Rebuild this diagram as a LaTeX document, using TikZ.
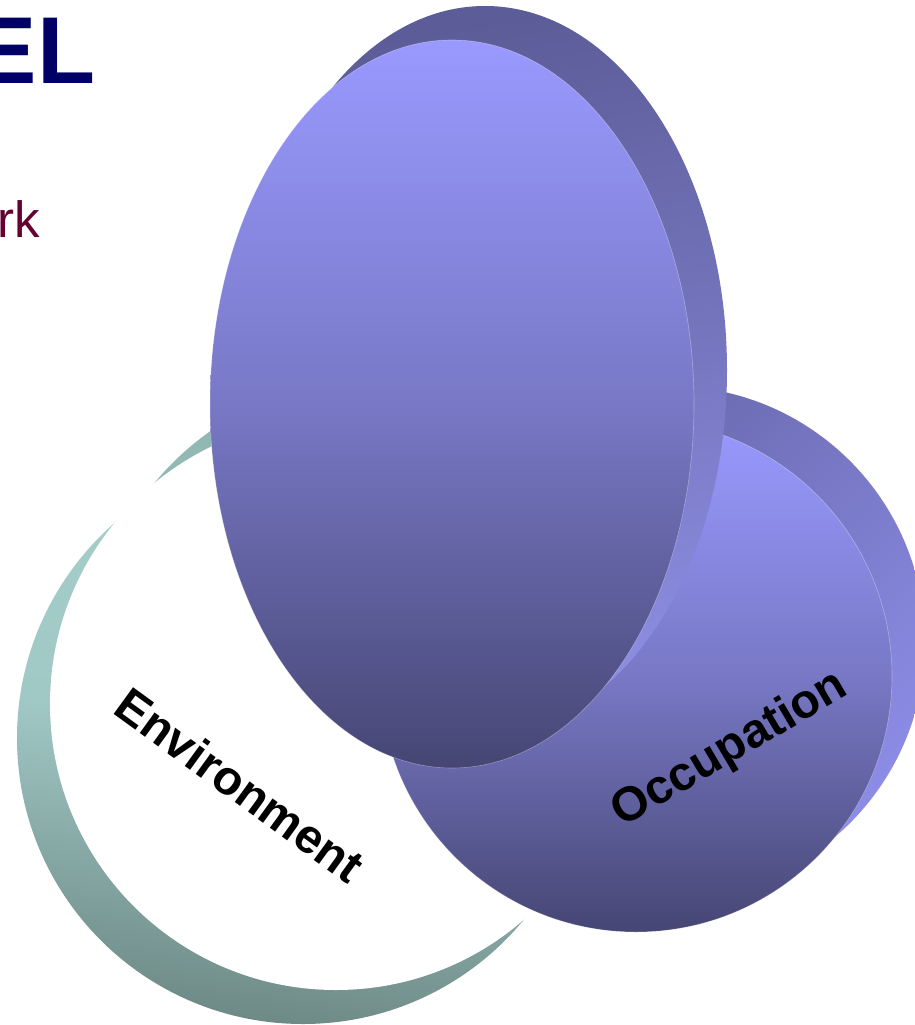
\documentclass[tikz,border=0pt]{standalone}
\usepackage{fontspec}
\setmainfont{Liberation Sans}
\definecolor{titlenavy}{HTML}{000066}
\definecolor{submaroon}{HTML}{660033}
\definecolor{faceTop}{HTML}{9999FF}
\definecolor{faceMid}{HTML}{7878C6}
\definecolor{faceBot}{HTML}{464674}
\definecolor{occRimDark}{HTML}{6464A6}
\definecolor{occRimLight}{HTML}{8C8CE6}
\definecolor{ellRimDark}{HTML}{5C5C98}
\definecolor{ellRimLight}{HTML}{8E8EE4}
\definecolor{envRimLight}{HTML}{A6CECB}
\definecolor{envRimMid}{HTML}{A0C8C5}
\definecolor{envRimDark}{HTML}{6E8A86}
\definecolor{envRimTop}{HTML}{7FA39E}
\begin{document}
\begin{tikzpicture}[x=1pt,y=-1pt,
  facefill/.style={top color=faceTop, bottom color=faceBot, middle color=faceMid},
  facerim/.style={draw=white, draw opacity=0.35, line width=0.6pt},
  envrim/.style={top color=envRimLight, bottom color=envRimDark, middle color=envRimMid, shading angle=-8},
  envrimtop/.style={left color=envRimLight!60!envRimTop, right color=envRimTop},
  occrim/.style={top color=occRimDark, bottom color=occRimLight, shading angle=45},
  ellrim/.style={top color=ellRimDark, bottom color=ellRimLight, shading angle=10},
  label/.style={font=\fontsize{48}{56}\selectfont\bfseries, text=black, inner sep=0pt}]
\useasboundingbox (0,0) rectangle (914,1025);

% title remnants
\node[anchor=base east, inner sep=0pt, text=titlenavy, font=\fontsize{95}{110}\selectfont\bfseries] (title) at (95.5,83) {EL};
\node[anchor=base east, inner sep=0pt, text=submaroon, font=\fontsize{51}{60}\selectfont] (subtitle) at (40,237) {rk};

% Environment disc (rim shows on the lower left and, thinly, on the upper right)
\shade[envrimtop] (375,665) circle[radius=286];
\shade[envrim] (303,738) circle[radius=286];
\fill[white] (336,704) circle[radius=286];

% Occupation disc
\shade[occrim] (669,642) circle[radius=256];
\shade[facefill] (636,676) circle[radius=256];
\draw[facerim] (636,676) circle[radius=256];

% Top ellipse
\shade[ellrim] (485,370) ellipse[x radius=242, y radius=364];
\shade[facefill] (452,404) ellipse[x radius=242, y radius=364];
\draw[facerim] (452,404) ellipse[x radius=242, y radius=364];

% labels
\node[label, rotate=-36] (env) at (240,785) {Environment};
\node[label, rotate=30.5] (occ) at (730,750) {Occupation};
\end{tikzpicture}
\end{document}
